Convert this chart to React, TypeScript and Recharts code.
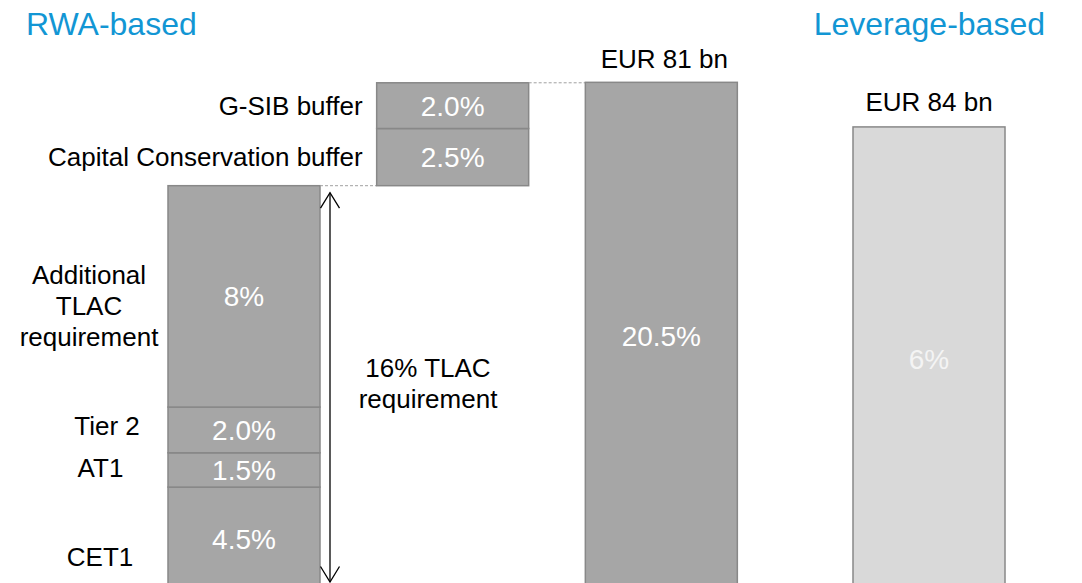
import React from 'react';
import { BarChart, Bar, XAxis, YAxis } from 'recharts';

const FONT = "'Liberation Sans', Arial, Helvetica, sans-serif";

// ---- data (bottom to top) ----
const sectionTitles = ['RWA-based', 'Leverage-based'];
const categories = ['TLAC', 'Buffers', 'Total'];

const rwaSegmentNames = [['CET1'], ['AT1'], ['Tier 2'], ['Additional', 'TLAC', 'requirement']];
const rwaSegmentLabels = ['4.5%', '1.5%', '2.0%', '8%'];
// drawn heights (the original graphic is schematic, not to scale)
const rwaSegmentHeights = [4.5, 1.5, 2.0, 9.68];

const bufferNames = ['Capital Conservation buffer', 'G-SIB buffer'];
const bufferLabels = ['2.5%', '2.0%'];
const bufferHeights = [2.5, 2.0];

const totalLabel = '20.5%';
const totalHeight = 22.2;
const totalAmount = 'EUR 81 bn';

const leverageCategory = 'Leverage';
const leverageLabel = '6%';
const leverageHeight = 20.25;
const leverageAmount = 'EUR 84 bn';

const tlacAnnotation = ['16% TLAC', 'requirement'];

// ---- tables built from the arrays ----
const buffersBase = rwaSegmentHeights.reduce((a, b) => a + b, 0);
const rwaData = [
  {
    name: categories[0],
    cet1: rwaSegmentHeights[0],
    at1: rwaSegmentHeights[1],
    tier2: rwaSegmentHeights[2],
    addl: rwaSegmentHeights[3],
    base: 0,
    ccb: 0,
    gsib: 0,
    total: 0,
  },
  { name: categories[1], cet1: 0, at1: 0, tier2: 0, addl: 0, base: buffersBase, ccb: bufferHeights[0], gsib: bufferHeights[1], total: 0 },
  { name: categories[2], cet1: 0, at1: 0, tier2: 0, addl: 0, base: 0, ccb: 0, gsib: 0, total: totalHeight },
];
const leverageData = [{ name: leverageCategory, value: leverageHeight }];

// ---- style / layout ----
const CHART_H = 590;
const Y_MAX = 25.8;
const BAR = 152;
const BAND = 626 / 3;
const GAP = BAND - BAR;
const DARK = '#a6a6a6';
const LIGHT = '#d9d9d9';
const EDGE = '#888888';
const LINE_H = 31;
const leftLabelOffsets = [
  { dx: -68, dy: 18.5 },
  { dx: -67.5, dy: -2.6 },
  { dx: -61, dy: -4 },
  { dx: -79, dy: 9 },
];

function MultiText(props: { x: number; cy: number; lines: string[]; size: number; fill: string; anchor?: string }) {
  const { x, cy, lines, size, fill, anchor = 'middle' } = props;
  const first = cy - ((lines.length - 1) * LINE_H) / 2;
  return (
    <text x={x} y={first} fontFamily={FONT} fontSize={size} fill={fill} textAnchor={anchor as any}>
      {lines.map((l, i) => (
        <tspan key={i} x={x} y={first + i * LINE_H} dy="0.36em">
          {l}
        </tspan>
      ))}
    </text>
  );
}

const segmentShape = (seg: number) => (p: any) => {
  const { x, y, width, height } = p;
  if (!height || height < 0.5) return <g />;
  const cx = x + width / 2;
  const cy = y + height / 2;
  const off = leftLabelOffsets[seg];
  let extras: React.ReactNode = null;
  if (seg === 3) {
    const pxPerUnit = height / rwaSegmentHeights[3];
    const lower = rwaSegmentHeights.slice(0, 3).reduce((a, b) => a + b, 0);
    const bottom = y + height + lower * pxPerUnit;
    const ax = x + width + 10;
    const top = y + 7;
    const bot = bottom - 8;
    extras = (
      <g>
        <line x1={x + width} y1={y} x2={x + width + GAP} y2={y} stroke="#a0a0a0" strokeDasharray="3 2" strokeWidth={1} />
        <line x1={ax} y1={top} x2={ax} y2={bot} stroke="#000" strokeWidth={1.3} />
        <polyline points={`${ax - 9.5},${top + 15.5} ${ax},${top} ${ax + 9.5},${top + 15.5}`} fill="none" stroke="#000" strokeWidth={1.3} />
        <polyline points={`${ax - 9.5},${bot - 15.5} ${ax},${bot} ${ax + 9.5},${bot - 15.5}`} fill="none" stroke="#000" strokeWidth={1.3} />
        <MultiText x={ax + 98} cy={(top + bot) / 2 - 4} lines={tlacAnnotation} size={26} fill="#000" />
      </g>
    );
  }
  return (
    <g>
      <rect x={x} y={y} width={width} height={height} fill={DARK} stroke={EDGE} strokeWidth={1.5} />
      <text x={cx} y={cy} dy="0.36em" textAnchor="middle" fontFamily={FONT} fontSize={28} fill="#ffffff">
        {rwaSegmentLabels[seg]}
      </text>
      <MultiText x={x + off.dx} cy={cy + off.dy} lines={rwaSegmentNames[seg]} size={26} fill="#000" />
      {extras}
    </g>
  );
};

const bufferShape = (seg: number) => (p: any) => {
  const { x, y, width, height } = p;
  if (!height || height < 0.5) return <g />;
  const cx = x + width / 2;
  const cy = y + height / 2;
  return (
    <g>
      <rect x={x} y={y} width={width} height={height} fill={DARK} stroke={EDGE} strokeWidth={1.5} />
      <text x={cx} y={cy} dy="0.36em" textAnchor="middle" fontFamily={FONT} fontSize={28} fill="#ffffff">
        {bufferLabels[seg]}
      </text>
      <text x={x - 14} y={cy} dy="0.36em" textAnchor="end" fontFamily={FONT} fontSize={26} fill="#000">
        {bufferNames[seg]}
      </text>
      {seg === 1 && (
        <line x1={x + width} y1={y} x2={x + width + GAP} y2={y} stroke="#a0a0a0" strokeDasharray="3 2" strokeWidth={1} />
      )}
    </g>
  );
};

const hiddenShape = () => <g />;

const totalShape = (p: any) => {
  const { x, y, width, height } = p;
  if (!height || height < 0.5) return <g />;
  return (
    <g>
      <rect x={x} y={y} width={width} height={height} fill={DARK} stroke={EDGE} strokeWidth={1.5} />
      <text x={x + width / 2} y={y + height / 2} dy="0.36em" textAnchor="middle" fontFamily={FONT} fontSize={28} fill="#ffffff">
        {totalLabel}
      </text>
      <text x={x + width / 2 + 3} y={y - 14} textAnchor="middle" fontFamily={FONT} fontSize={26} fill="#000">
        {totalAmount}
      </text>
    </g>
  );
};

const leverageShape = (p: any) => {
  const { x, y, width, height } = p;
  if (!height || height < 0.5) return <g />;
  return (
    <g>
      <rect x={x} y={y} width={width} height={height} fill={LIGHT} stroke={EDGE} strokeWidth={1.5} />
      <text x={x + width / 2} y={y + height / 2} dy="0.36em" textAnchor="middle" fontFamily={FONT} fontSize={28} fill="#f4f4f4">
        {leverageLabel}
      </text>
      <text x={x + width / 2} y={y - 16} textAnchor="middle" fontFamily={FONT} fontSize={26} fill="#000">
        {leverageAmount}
      </text>
    </g>
  );
};

export default function App() {
  return (
    <div
      style={{
        position: 'absolute',
        left: 0,
        top: 0,
        width: 1082,
        height: 583,
        overflow: 'hidden',
        background: '#ffffff',
      }}
    >
      <div style={{ position: 'absolute', left: 0, top: 0 }}>
        <BarChart width={766} height={CHART_H} data={rwaData} margin={{ top: 0, right: 0, bottom: 0, left: 140 }}>
          <XAxis dataKey="name" hide />
          <YAxis hide domain={[0, Y_MAX]} />
          <Bar dataKey="cet1" stackId="a" barSize={BAR} isAnimationActive={false} shape={segmentShape(0)} />
          <Bar dataKey="at1" stackId="a" barSize={BAR} isAnimationActive={false} shape={segmentShape(1)} />
          <Bar dataKey="tier2" stackId="a" barSize={BAR} isAnimationActive={false} shape={segmentShape(2)} />
          <Bar dataKey="addl" stackId="a" barSize={BAR} isAnimationActive={false} shape={segmentShape(3)} />
          <Bar dataKey="base" stackId="a" barSize={BAR} isAnimationActive={false} shape={hiddenShape} />
          <Bar dataKey="ccb" stackId="a" barSize={BAR} isAnimationActive={false} shape={bufferShape(0)} />
          <Bar dataKey="gsib" stackId="a" barSize={BAR} isAnimationActive={false} shape={bufferShape(1)} />
          <Bar dataKey="total" stackId="a" barSize={BAR} isAnimationActive={false} shape={totalShape} />
        </BarChart>
      </div>
      <div style={{ position: 'absolute', left: 825, top: 0 }}>
        <BarChart width={208} height={CHART_H} data={leverageData} margin={{ top: 0, right: 0, bottom: 0, left: 0 }}>
          <XAxis dataKey="name" hide />
          <YAxis hide domain={[0, Y_MAX]} />
          <Bar dataKey="value" barSize={BAR} isAnimationActive={false} shape={leverageShape} />
        </BarChart>
      </div>
      <svg width={1082} height={583} style={{ position: 'absolute', left: 0, top: 0, pointerEvents: 'none' }}>
        <text x={26} y={35} fontFamily={FONT} fontSize={32} fill="#1296d4">
          {sectionTitles[0]}
        </text>
        <text x={1045} y={35} textAnchor="end" fontFamily={FONT} fontSize={32} fill="#1296d4">
          {sectionTitles[1]}
        </text>
      </svg>
    </div>
  );
}
